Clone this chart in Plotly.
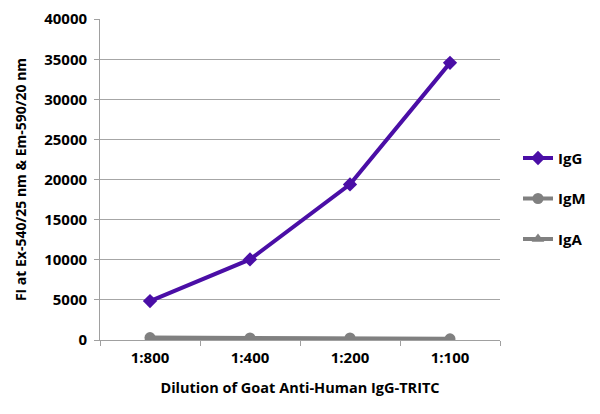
import plotly.graph_objects as go

categories = ["1:800", "1:400", "1:200", "1:100"]
igg = [4850, 10050, 19400, 34550]
igm = [300, 250, 250, 150]
iga = [200, 150, 150, 100]
y_ticks = [0, 5000, 10000, 15000, 20000, 25000, 30000, 35000, 40000]

purple = "#4a0ea6"
gray = "#808080"
font_family = "Open Sans"

fig = go.Figure()
fig.add_trace(go.Scatter(x=categories, y=iga, name="IgA", mode="lines+markers",
                         line=dict(color=gray, width=4),
                         marker=dict(symbol="triangle-up", size=11, color=gray),
                         legendgroup="c", legendrank=3))
fig.add_trace(go.Scatter(x=categories, y=igm, name="IgM", mode="lines+markers",
                         line=dict(color=gray, width=4),
                         marker=dict(symbol="circle", size=11, color=gray),
                         legendgroup="b", legendrank=2))
fig.add_trace(go.Scatter(x=categories, y=igg, name="IgG", mode="lines+markers",
                         line=dict(color=purple, width=4),
                         marker=dict(symbol="diamond", size=11, color=purple),
                         legendgroup="a", legendrank=1))

fig.update_layout(
    width=600, height=414,
    margin=dict(l=92, r=108, t=11, b=82, autoexpand=False),
    paper_bgcolor="white", plot_bgcolor="white",
    font=dict(family=font_family, size=14, color="black", weight="bold"),
    legend=dict(x=1.045, y=0.44, xanchor="left", yanchor="middle",
                tracegroupgap=18, font=dict(size=15, weight="bold"),
                traceorder="grouped"),
    xaxis=dict(
        type="category", categoryorder="array", categoryarray=categories,
        showline=True, linecolor="#a0a0a0", linewidth=1,
        ticks="outside", tickson="boundaries", ticklen=5, tickcolor="#a0a0a0",
        showgrid=False, range=[-0.5, 3.5], ticklabelstandoff=4,
        automargin=False,
        title=dict(text="Dilution of Goat Anti-Human IgG-TRITC", standoff=16,
                   font=dict(size=14.5, weight="bold")),
        tickfont=dict(size=15, weight="bold"),
    ),
    yaxis=dict(
        range=[0, 40020], tickvals=y_ticks,
        ticktext=[str(v) + " " for v in y_ticks],
        showline=True, linecolor="#a0a0a0", linewidth=1,
        ticks="outside", ticklen=5, tickcolor="#a0a0a0",
        showgrid=True, gridcolor="#a6a6a6", gridwidth=1,
        zeroline=False, ticklabeloverflow="allow", automargin=False,
        title=dict(text="FI at Ex-540/25 nm & Em-590/20 nm", standoff=14,
                   font=dict(size=14, weight="bold")),
        tickfont=dict(size=15, weight="bold"),
    ),
)

fig.write_html("out.html")
